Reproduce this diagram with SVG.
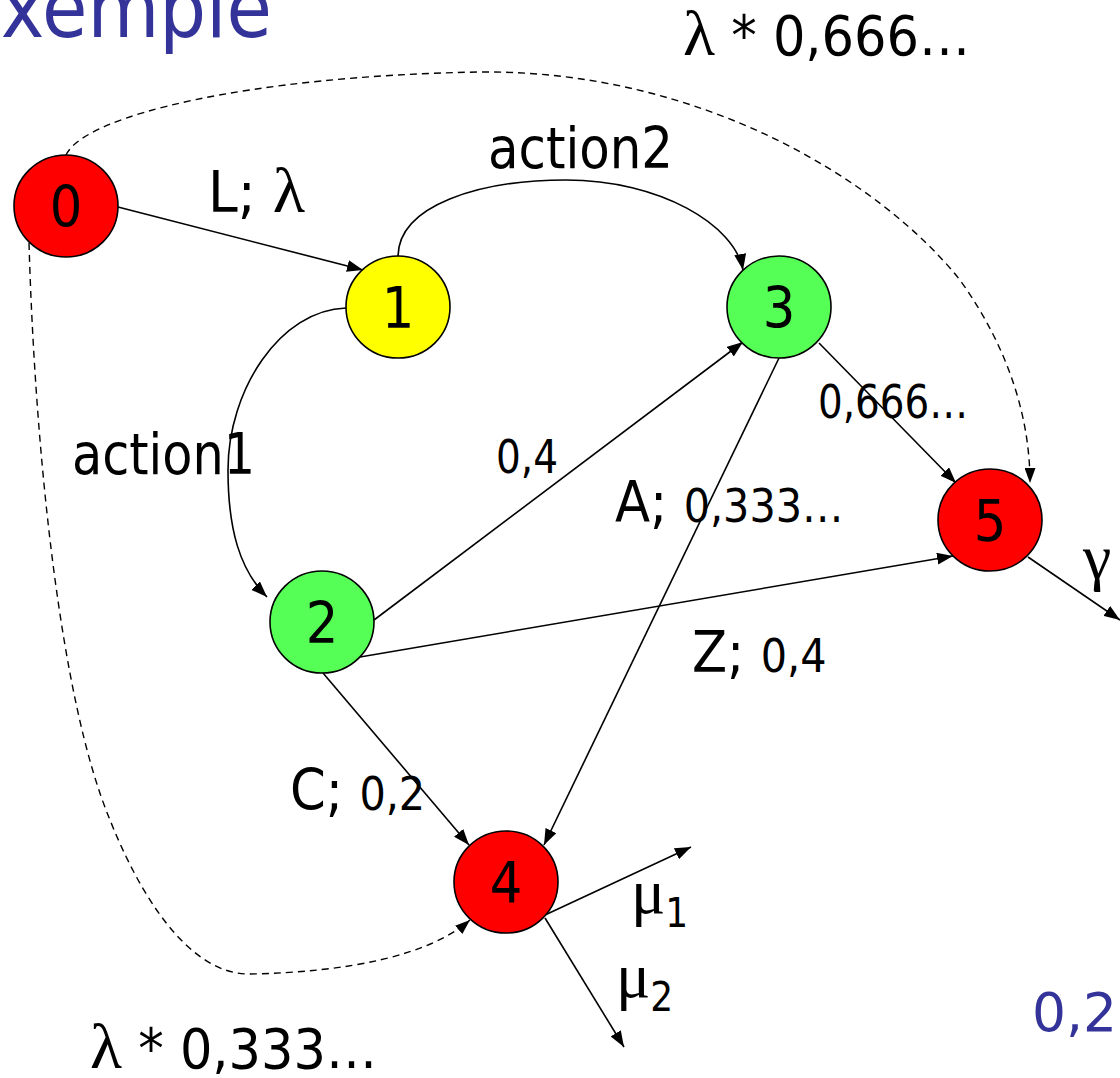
<svg xmlns="http://www.w3.org/2000/svg" width="1120" height="1078" viewBox="0 0 1120 1078">
<style>
.t{font-family:"DejaVu Sans Condensed","DejaVu Sans",sans-serif;fill:#000}
.big{font-size:57px}
.sm{font-size:46px}
.g{font-family:"Liberation Serif","DejaVu Serif",serif;font-size:64px}
.blue{fill:#333399}
.node{stroke:#000;stroke-width:1.6}
.e{fill:none;stroke:#000;stroke-width:1.6}
.d{fill:none;stroke:#000;stroke-width:1.4;stroke-dasharray:7 5}
</style>
<defs>
<marker id="ar" viewBox="0 0 16 12" refX="16" refY="6" markerWidth="16" markerHeight="12" markerUnits="userSpaceOnUse" orient="auto">
<path d="M0,0 L16,6 L0,12 z" fill="#000"/>
</marker>
<marker id="ard" viewBox="0 0 15 11" refX="15" refY="5.5" markerWidth="15" markerHeight="11" markerUnits="userSpaceOnUse" orient="auto">
<path d="M0,0 L15,5.5 L0,11 z" fill="#000"/>
</marker>
</defs>
<text class="t blue" x="272" y="37" font-size="82" text-anchor="end">Exemple</text>
<text class="t blue" x="1032" y="1031" font-size="54" textLength="85" lengthAdjust="spacingAndGlyphs">0,2</text>
<g id="connectors">
<path class="d" d="M66,155 C85,115 250,76 480,72 C700,70 880,180 960,280 C1010,350 1030,420 1030,483" marker-end="url(#ard)"/>
<path class="d" d="M29,243 C35,450 60,700 110,820 C150,920 200,975 250,974 C350,972 430,955 470,920" marker-end="url(#ard)"/>
<path class="e" d="M118,207 L363,270" marker-end="url(#ar)"/>
<path class="e" d="M398,257 C398,205 480,180 566,180 C660,180 735,225 743,270" marker-end="url(#ar)"/>
<path class="e" d="M346,308 C280,310 228,390 228,470 C228,530 240,570 267,597" marker-end="url(#ar)"/>
<path class="e" d="M374,620 L743,342" marker-end="url(#ar)"/>
<path class="e" d="M360,657 L953,556" marker-end="url(#ar)"/>
<path class="e" d="M323,673 L469,845" marker-end="url(#ar)"/>
<path class="e" d="M779,358 L544,845" marker-end="url(#ar)"/>
<path class="e" d="M819,343 L956,483" marker-end="url(#ar)"/>
<path class="e" d="M1028,557 L1120,620" marker-end="url(#ar)"/>
<path class="e" d="M545,915 L691,847" marker-end="url(#ar)"/>
<path class="e" d="M545,918 L624,1047" marker-end="url(#ar)"/>
</g>
<g id="node0"><ellipse class="node" cx="66" cy="206" rx="52" ry="51" fill="#FF0000"/><text class="t big" x="66" y="227" text-anchor="middle">0</text></g>
<g id="node1"><ellipse class="node" cx="398" cy="307" rx="52" ry="51" fill="#FFFF00"/><text class="t big" x="398" y="328" text-anchor="middle">1</text></g>
<g id="node2"><ellipse class="node" cx="322" cy="622" rx="52" ry="51" fill="#55FF55"/><text class="t big" x="322" y="643" text-anchor="middle">2</text></g>
<g id="node3"><ellipse class="node" cx="779" cy="307" rx="52" ry="51" fill="#55FF55"/><text class="t big" x="779" y="328" text-anchor="middle">3</text></g>
<g id="node4"><ellipse class="node" cx="506" cy="882" rx="52" ry="51" fill="#FF0000"/><text class="t big" x="506" y="903" text-anchor="middle">4</text></g>
<g id="node5"><ellipse class="node" cx="990" cy="520" rx="52" ry="51" fill="#FF0000"/><text class="t big" x="990" y="541" text-anchor="middle">5</text></g>
<g id="labels">
<text class="t" x="683" y="55" font-size="55" textLength="287" lengthAdjust="spacingAndGlyphs"><tspan class="g" font-size="60">λ</tspan> * 0,666…</text>
<text class="t big" x="208" y="212" textLength="97" lengthAdjust="spacingAndGlyphs">L; <tspan class="g">λ</tspan></text>
<text class="t big" x="488" y="168" textLength="185" lengthAdjust="spacingAndGlyphs">action2</text>
<text class="t big" x="72" y="474" textLength="183" lengthAdjust="spacingAndGlyphs">action1</text>
<text class="t sm" x="818" y="418" textLength="150" lengthAdjust="spacingAndGlyphs">0,666…</text>
<text class="t sm" x="496" y="473" textLength="62" lengthAdjust="spacingAndGlyphs">0,4</text>
<text class="t" x="615" y="522"><tspan class="big">A; </tspan><tspan class="sm">0,333…</tspan></text>
<text class="t" x="692" y="672"><tspan class="big">Z; </tspan><tspan class="sm">0,4</tspan></text>
<text class="t" x="290" y="810"><tspan class="big">C; </tspan><tspan class="sm">0,2</tspan></text>
<text class="t" x="631" y="913"><tspan class="g">μ</tspan><tspan font-size="40" dy="14">1</tspan></text>
<text class="t" x="616" y="997"><tspan class="g">μ</tspan><tspan font-size="40" dy="14">2</tspan></text>
<text class="t g" x="1083" y="578">γ</text>
<text class="t" x="90" y="1068" font-size="55" textLength="287" lengthAdjust="spacingAndGlyphs"><tspan class="g" font-size="60">λ</tspan> * 0,333…</text>
</g>
</svg>
